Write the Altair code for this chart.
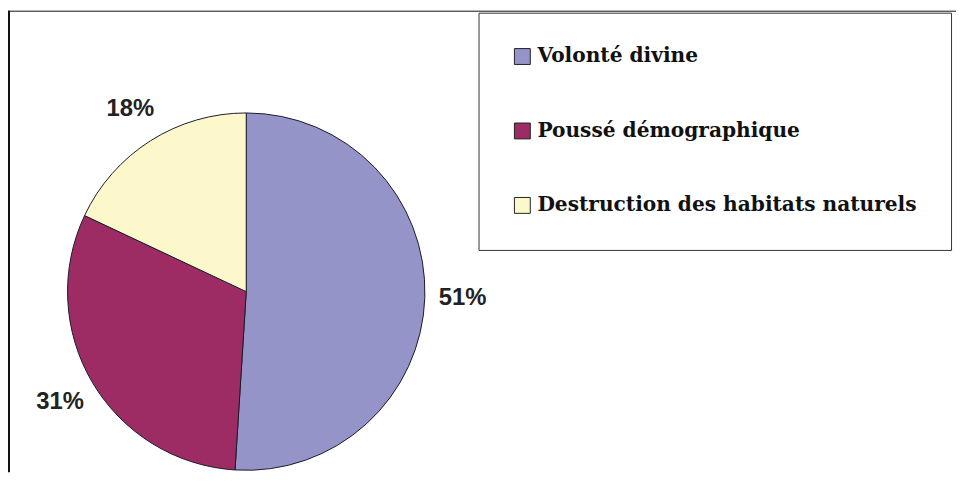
import altair as alt
import pandas as pd

categories = ["Volonté divine", "Poussé démographique", "Destruction des habitats naturels"]
values = [51, 31, 18]
labels = ["51%", "31%", "18%"]
colors = ["#9494c9", "#9c2c63", "#fdf8cc"]

df = pd.DataFrame({"cause": categories, "value": values, "label": labels, "idx": list(range(len(categories)))})

W, H = 955, 466
CX, CY = 240, 284

base = alt.Chart(df).encode(
    theta=alt.Theta("value:Q", stack=True),
    order=alt.Order("idx:Q"),
)

pie = base.mark_arc(outerRadius=180, stroke="#1b1b2b", strokeWidth=1).encode(
    x=alt.value(CX),
    y=alt.value(CY),
    color=alt.Color(
        "cause:N",
        scale=alt.Scale(domain=categories, range=colors),
        legend=alt.Legend(
            title=None,
            orient="none",
            legendX=474,
            legendY=3,
            direction="vertical",
            symbolType="square",
            symbolSize=256,
            symbolStrokeColor="#222222",
            symbolStrokeWidth=1,
            symbolOpacity=1,
            labelFont="DejaVu Serif",
            labelFontSize=20.3,
            labelFontWeight="bold",
            labelColor="#111111",
            labelOffset=5,
            labelLimit=600,
            rowPadding=54,
            padding=34,
            strokeColor="#333333",
            fillColor="white",
        ),
    ),
)

text = base.mark_text(
    radius=218, font="Liberation Sans", fontSize=24, fontWeight="bold", color="#222222"
).encode(x=alt.value(CX), y=alt.value(CY), text="label:N")

frame_df = pd.DataFrame({"k": [0]})
top_line = alt.Chart(frame_df).mark_rule(color="#111111", strokeWidth=1).encode(
    x=alt.value(0), x2=alt.value(W), y=alt.value(1.5)
)
left_line = alt.Chart(frame_df).mark_rule(color="#111111", strokeWidth=2).encode(
    x=alt.value(1), y=alt.value(1), y2=alt.value(H)
)

chart = alt.layer(pie, text, top_line, left_line).properties(
    width=W,
    height=H,
    autosize=alt.AutoSizeParams(type="none"),
    padding=0,
    background="white",
).configure_view(stroke=None)

chart.save("out.html", embed_options={"renderer": "svg", "actions": False})
